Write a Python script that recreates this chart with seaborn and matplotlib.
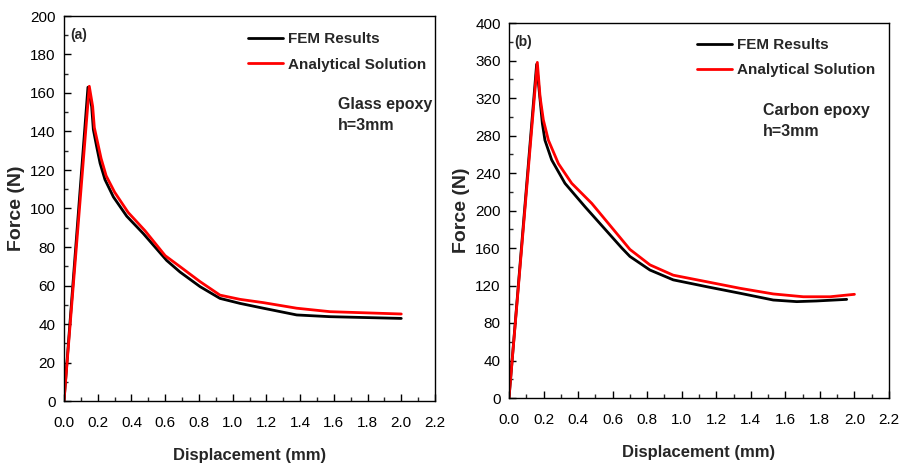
import numpy as np
import pandas as pd
import seaborn as sns
import matplotlib
matplotlib.use("Agg")
import matplotlib.pyplot as plt
from matplotlib.ticker import MultipleLocator, FormatStrFormatter

# ---- data: panel (a) Glass epoxy ----
a_fem_x = [0.0, 0.142, 0.164, 0.174, 0.194, 0.214, 0.243, 0.293, 0.372, 0.47, 0.609, 0.688, 0.807, 0.925, 1.044, 1.182, 1.38, 1.578, 2.0]
a_fem_y = [0.0, 163, 153, 141, 132, 123.5, 115, 106, 96, 87, 73, 67, 59.4, 53.3, 50.7, 48.2, 44.7, 43.8, 42.9]
a_ana_x = [0.0, 0.15, 0.17, 0.18, 0.2, 0.22, 0.25, 0.3, 0.38, 0.48, 0.6, 0.688, 0.807, 0.925, 1.044, 1.182, 1.38, 1.578, 2.0]
a_ana_y = [0.0, 163.5, 153, 142, 134, 126, 117, 108.5, 98, 88.5, 75.5, 69.8, 62, 55, 52.8, 51.1, 48.2, 46.4, 45.2]

# ---- data: panel (b) Carbon epoxy ----
b_fem_x = [0.0, 0.16, 0.18, 0.193, 0.208, 0.247, 0.324, 0.44, 0.653, 0.70, 0.816, 0.951, 1.145, 1.338, 1.53, 1.666, 1.78, 1.955]
b_fem_y = [0.0, 356, 318, 293, 275, 254, 229, 204, 160, 151, 136.5, 126, 118.7, 111.7, 104.5, 102.8, 103.5, 105.2]
b_ana_x = [0.0, 0.164, 0.18, 0.199, 0.228, 0.286, 0.363, 0.479, 0.70, 0.816, 0.951, 1.145, 1.338, 1.53, 1.704, 1.859, 2.0]
b_ana_y = [0.0, 358, 321, 296.5, 275, 250, 229, 207.6, 158.5, 142, 131, 124, 117, 111, 108, 108, 110.6]

series_names = ["FEM Results", "Analytical Solution"]
series_colors = ["#000000", "#ff0000"]

sns.set_style("white")
plt.rcParams['font.family'] = ['Liberation Sans', 'DejaVu Sans']

fig = plt.figure(figsize=(8.99, 4.69), dpi=100)
ax1 = fig.add_axes([64/899, 1-401/469, (435-64)/899, (401-16)/469])
ax2 = fig.add_axes([509/899, 1-398/469, (889-509)/899, (398-23)/469])

def make_df(fx, fy, ax_, ay):
    d1 = pd.DataFrame({"x": fx, "y": fy, "s": series_names[0]})
    d2 = pd.DataFrame({"x": ax_, "y": ay, "s": series_names[1]})
    return pd.concat([d1, d2], ignore_index=True)

panels = [
    (ax1, make_df(a_fem_x, a_fem_y, a_ana_x, a_ana_y), 200, 20, 10, "(a)", (0.016, 0.969),
     "Glass epoxy\nh=3mm", (0.739, 0.79), (0.496, 0.958)),
    (ax2, make_df(b_fem_x, b_fem_y, b_ana_x, b_ana_y), 400, 40, 20, "(b)", (0.013, 0.968),
     "Carbon epoxy\nh=3mm", (0.668, 0.787), (0.495, 0.96)),
]

for ax, df, ymax, ymaj, ymin, tag, tagpos, note, notepos, legpos in panels:
    sns.lineplot(data=df, x="x", y="y", hue="s", palette=series_colors,
                 hue_order=series_names, estimator=None, sort=False,
                 linewidth=2.0, ax=ax, legend=False)
    ax.set_xlim(0, 2.2)
    ax.set_ylim(0, ymax)
    ax.xaxis.set_major_locator(MultipleLocator(0.2))
    ax.xaxis.set_minor_locator(MultipleLocator(0.1))
    ax.yaxis.set_major_locator(MultipleLocator(ymaj))
    ax.yaxis.set_minor_locator(MultipleLocator(ymin))
    ax.xaxis.set_major_formatter(FormatStrFormatter('%.1f'))
    ax.tick_params(axis='both', which='major', direction='in', length=5, width=1,
                   labelsize=11, colors='black', bottom=True, left=True, top=False, right=False)
    ax.tick_params(axis='y', which='major', pad=6)
    ax.tick_params(axis='x', which='major', pad=11)
    ax.tick_params(axis='both', which='minor', direction='in', length=3, width=1,
                   bottom=True, left=True, top=False, right=False)
    for sp in ax.spines.values():
        sp.set_visible(True)
        sp.set_color('black')
        sp.set_linewidth(1.0)
    ax.set_xlabel("Displacement (mm)", fontsize=12, fontweight='bold', labelpad=13)
    ax.set_ylabel("Force (N)", fontsize=14, fontweight='bold', labelpad=4)
    ax.text(tagpos[0], tagpos[1], tag, transform=ax.transAxes, fontsize=10, fontweight='bold',
            va='top', ha='left')
    ax.text(notepos[0], notepos[1], note, transform=ax.transAxes, fontsize=11.5,
            fontweight='bold', va='top', ha='left', linespacing=1.55)
    handles = [plt.Line2D([], [], color=c, lw=2.0) for c in series_colors]
    ax.legend(handles, series_names, loc='upper left', bbox_to_anchor=legpos,
              frameon=False, handlelength=2.3, handletextpad=0.3,
              labelspacing=0.75, borderpad=0, borderaxespad=0,
              prop={'weight': 'bold', 'size': 11})

fig.savefig("out.png", dpi=100, facecolor='white')
